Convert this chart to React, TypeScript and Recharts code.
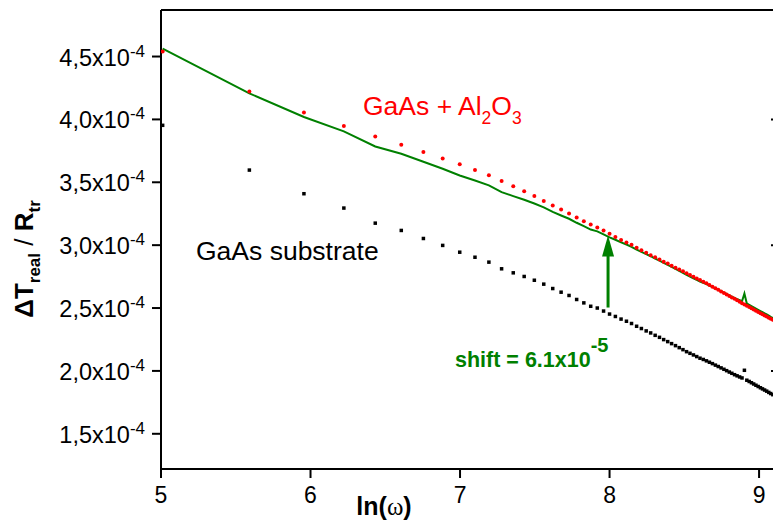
import React from "react";
import { ComposedChart, Scatter, Line, XAxis, YAxis, ReferenceLine, Label } from "recharts";

// ln(omega) of every measured frequency (omega steps evenly, so the points crowd to the right)
const LN_OMEGA = [
  5.011, 5.591, 5.956, 6.223, 6.433, 6.607, 6.755, 6.884, 6.998, 7.1,
  7.193, 7.278, 7.356, 7.429, 7.497, 7.56, 7.62, 7.676, 7.729, 7.78,
  7.828, 7.874, 7.918, 7.96, 8.0, 8.039, 8.077, 8.113, 8.147, 8.181,
  8.213, 8.245, 8.275, 8.305, 8.334, 8.362, 8.389, 8.415, 8.441, 8.466,
  8.491, 8.515, 8.538, 8.561, 8.583, 8.605, 8.627, 8.648, 8.668, 8.688,
  8.708, 8.727, 8.746, 8.765, 8.783, 8.801, 8.818, 8.836, 8.853, 8.87,
  8.886, 8.902, 8.918, 8.934, 8.949, 8.964, 8.979, 8.994, 9.009, 9.023,
  9.037, 9.051, 9.065, 9.078, 9.092, 9.105, 9.118, 9.131,
];

// values in units of 1e-4
const SUBSTRATE = [
  3.953, 3.597, 3.409, 3.295, 3.175, 3.117, 3.053, 2.998, 2.944, 2.904,
  2.865, 2.812, 2.78, 2.751, 2.721, 2.69, 2.655, 2.626, 2.6, 2.568,
  2.541, 2.514, 2.5, 2.476, 2.452, 2.433, 2.412, 2.395, 2.377, 2.355,
  2.337, 2.318, 2.302, 2.283, 2.267, 2.249, 2.233, 2.217, 2.201, 2.185,
  2.169, 2.153, 2.14, 2.127, 2.114, 2.101, 2.091, 2.08, 2.069, 2.058,
  2.046, 2.035, 2.024, 2.013, 2.002, 1.991, 1.981, 1.97, 1.961, 1.952,
  1.944, 2.005, 1.926, 1.916, 1.906, 1.896, 1.886, 1.876, 1.866, 1.857,
  1.848, 1.839, 1.829, 1.82, 1.811, 1.803, 1.794, 1.786,
];

const COATED = [
  4.54, 4.221, 4.054, 3.947, 3.865, 3.799, 3.74, 3.69, 3.643, 3.598,
  3.556, 3.51, 3.468, 3.428, 3.39, 3.352, 3.316, 3.284, 3.252, 3.22,
  3.191, 3.164, 3.141, 3.117, 3.091, 3.064, 3.041, 3.021, 3.003, 2.979,
  2.96, 2.939, 2.92, 2.904, 2.886, 2.868, 2.854, 2.836, 2.82, 2.807,
  2.792, 2.777, 2.763, 2.749, 2.735, 2.722, 2.71, 2.697, 2.683, 2.67,
  2.657, 2.645, 2.632, 2.62, 2.607, 2.596, 2.584, 2.573, 2.561, 2.55,
  2.539, 2.528, 2.518, 2.508, 2.498, 2.488, 2.478, 2.469, 2.459, 2.45,
  2.441, 2.432, 2.423, 2.414, 2.406, 2.397, 2.389, 2.381,
];

// substrate curve moved up by the shift
const SHIFTED = [
  4.563, 4.207, 4.019, 3.905, 3.785, 3.727, 3.663, 3.608, 3.554, 3.514,
  3.475, 3.422, 3.39, 3.361, 3.331, 3.3, 3.265, 3.236, 3.21, 3.178,
  3.151, 3.124, 3.11, 3.086, 3.062, 3.043, 3.022, 3.005, 2.987, 2.965,
  2.947, 2.928, 2.912, 2.893, 2.877, 2.859, 2.843, 2.827, 2.811, 2.795,
  2.779, 2.763, 2.75, 2.737, 2.724, 2.711, 2.701, 2.69, 2.679, 2.668,
  2.656, 2.645, 2.634, 2.623, 2.612, 2.601, 2.591, 2.58, 2.571, 2.562,
  2.554, 2.615, 2.536, 2.526, 2.516, 2.506, 2.496, 2.486, 2.476, 2.467,
  2.458, 2.449, 2.439, 2.43, 2.421, 2.413, 2.404, 2.396,
];

const X_TICKS = [5, 6, 7, 8, 9];
const Y_TICKS = [1.5, 2, 2.5, 3, 3.5, 4, 4.5];
const RIGHT_TICKS = [2, 3, 4];
const X_DOMAIN = [5, 9.14];
const Y_DOMAIN = [1.22, 4.87];
const ARROW = [{ x: 7.99, y: 2.504 }, { x: 7.99, y: 3.077 }];

const FONT = "Liberation Sans, Arial, sans-serif";
const GREEN = "#008000";

const substrate = LN_OMEGA.map((x, i) => ({ x, y: SUBSTRATE[i] }));
const coated = LN_OMEGA.map((x, i) => ({ x, y: COATED[i] }));
const shifted = LN_OMEGA.map((x, i) => ({ x, y: SHIFTED[i] }));

const YTick = (p: any) => (
  <text x={p.x} y={p.y} textAnchor="end" fontFamily={FONT} fontSize={23.5} fill="#000">
    <tspan dy={9}>{p.payload.value.toFixed(1).replace(".", ",")}x10</tspan>
    <tspan dy={-9} fontSize={17}>-4</tspan>
  </text>
);

const Arrow = (p: any) => {
  const { x1, y1, x2, y2 } = p;
  const top = Math.min(y1, y2);
  const bottom = Math.max(y1, y2);
  return (
    <g>
      <line x1={x1} y1={bottom} x2={x2} y2={top + 20} stroke={GREEN} strokeWidth={3} />
      <polygon points={`${x2},${top} ${x2 - 6},${top + 21} ${x2 + 6},${top + 21}`} fill={GREEN} />
    </g>
  );
};

const Notes = () => (
  <g fontFamily={FONT}>
    <text x={363} y={115} fontSize={26.5} fill="#ff0000">
      GaAs + Al<tspan dy={9} fontSize={17.5}>2</tspan>
      <tspan dy={-9}>O</tspan>
      <tspan dy={9} fontSize={17.5}>3</tspan>
    </text>
    <text x={196} y={260} fontSize={26.5} fill="#000">GaAs substrate</text>
    <text x={455} y={367} fontSize={21.5} fontWeight="bold" fill={GREEN}>
      shift = 6.1x10<tspan dy={-15} fontSize={20}>-5</tspan>
    </text>
  </g>
);

const YTitle = () => (
  <text x={33} y={259} transform="rotate(-90, 33, 259)" textAnchor="middle" fontFamily={FONT} fontSize={26} fontWeight="bold" fill="#000">
    ΔT<tspan dy={7} fontSize={17}>real</tspan>
    <tspan dy={-7} fontWeight="normal"> / </tspan>R<tspan dy={7} fontSize={17}>tr</tspan>
  </text>
);

const XTitle = () => (
  <text x={384} y={515} textAnchor="middle" fontFamily={FONT} fontSize={25} fontWeight="bold" fill="#000">
    ln(<tspan fontFamily="Liberation Serif, serif" fontWeight="normal">ω</tspan>)
  </text>
);

export default function App() {
  const axisLine = { stroke: "#000", strokeWidth: 2 };
  return (
    <div style={{ position: "absolute", left: 0, top: 0, width: 773, height: 523, overflow: "hidden", background: "#fff" }}>
      <ComposedChart width={790} height={523} margin={{ top: 10, right: 10, left: 0, bottom: 0 }}>
        <XAxis xAxisId="b" dataKey="x" type="number" domain={X_DOMAIN} ticks={X_TICKS} allowDataOverflow
          height={54} tickSize={9} tickMargin={9} axisLine={axisLine} tickLine={axisLine}
          tick={{ fontSize: 23, fill: "#000", fontFamily: FONT }}>
          <Label content={() => <XTitle />} />
        </XAxis>
        <XAxis xAxisId="t" orientation="top" type="number" domain={X_DOMAIN} ticks={[6, 7, 8, 9]} allowDataOverflow
          height={1} mirror tickSize={9} axisLine={axisLine} tickLine={axisLine} tick={() => <g />} />
        <YAxis yAxisId="l" type="number" domain={Y_DOMAIN} ticks={Y_TICKS} allowDataOverflow
          width={161} tickSize={9} tickMargin={7} axisLine={axisLine} tickLine={axisLine} tick={<YTick />}>
          <Label content={() => <g><YTitle /><Notes /></g>} />
        </YAxis>
        <YAxis yAxisId="r" orientation="right" type="number" domain={Y_DOMAIN} ticks={RIGHT_TICKS} allowDataOverflow
          width={1} mirror tickSize={9} axisLine={axisLine} tickLine={axisLine} tick={() => <g />} />

        <Scatter xAxisId="b" yAxisId="l" data={substrate} dataKey="y" isAnimationActive={false}
          shape={(p: any) => <rect x={p.cx - 1.75} y={p.cy - 1.75} width={3.5} height={3.5} fill="#000" />} />
        <Scatter xAxisId="b" yAxisId="l" data={coated} dataKey="y" isAnimationActive={false}
          shape={(p: any) => <circle cx={p.cx} cy={p.cy} r={2} fill="#ff0000" />} />
        <Line xAxisId="b" yAxisId="l" data={shifted} dataKey="y" type="linear" stroke={GREEN} strokeWidth={2}
          dot={false} activeDot={false} isAnimationActive={false} />
        <ReferenceLine xAxisId="b" yAxisId="l" segment={ARROW} shape={Arrow} />
      </ComposedChart>
    </div>
  );
}
